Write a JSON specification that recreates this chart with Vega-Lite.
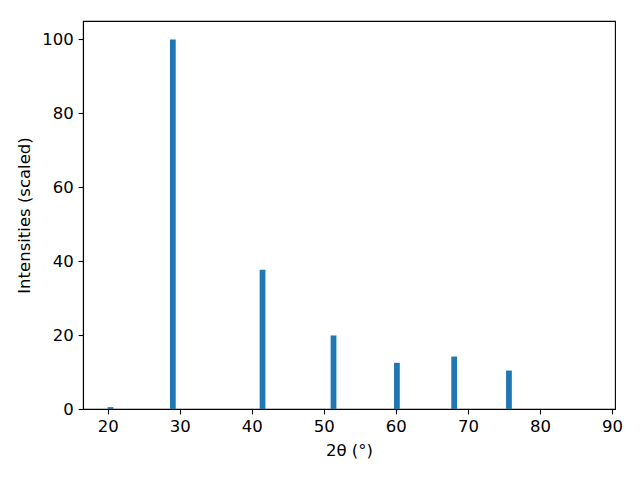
{
  "$schema": "https://vega.github.io/schema/vega-lite/v6.json",
  "width": 532,
  "height": 388,
  "autosize": {"type": "none"},
  "padding": {"left": 83, "top": 21, "right": 25, "bottom": 71},
  "background": "white",
  "config": {
    "view": {"stroke": "black", "strokeWidth": 1.1},
    "font": "DejaVu Sans",
    "axis": {
      "grid": false,
      "domainColor": "black",
      "domainWidth": 1.1,
      "tickColor": "black",
      "tickWidth": 1.1,
      "tickSize": 4.9,
      "labelPadding": 4.9,
      "labelColor": "black",
      "labelFont": "DejaVu Sans",
      "titleFont": "DejaVu Sans",
      "titleFontWeight": "normal",
      "titleColor": "black"
    }
  },
  "data": {
    "values": [
      {"lo": 20.0, "hi": 20.8, "intensity": 0.5},
      {"lo": 28.65, "hi": 29.45, "intensity": 100},
      {"lo": 41.1, "hi": 41.9, "intensity": 37.7},
      {"lo": 50.95, "hi": 51.75, "intensity": 19.9},
      {"lo": 59.75, "hi": 60.55, "intensity": 12.5},
      {"lo": 67.7, "hi": 68.5, "intensity": 14.2},
      {"lo": 75.3, "hi": 76.1, "intensity": 10.4}
    ]
  },
  "mark": {"type": "rect", "color": "#1f77b4"},
  "encoding": {
    "x": {
      "field": "lo",
      "type": "quantitative",
      "scale": {"domain": [16.58, 90.42], "nice": false, "zero": false},
      "axis": {"values": [20, 30, 40, 50, 60, 70, 80, 90], "title": "2θ (°)", "titlePadding": 7, "labelFlush": false, "labelFontSize": 16.5, "titleFontSize": 16.5}
    },
    "x2": {"field": "hi"},
    "y": {
      "field": "intensity",
      "type": "quantitative",
      "scale": {"domain": [0, 105], "nice": false},
      "axis": {"values": [0, 20, 40, 60, 80, 100], "title": "Intensities (scaled)", "titlePadding": 9, "labelFlush": false, "labelFontSize": 16.5, "titleFontSize": 16.5}
    },
    "y2": {"datum": 0}
  }
}
